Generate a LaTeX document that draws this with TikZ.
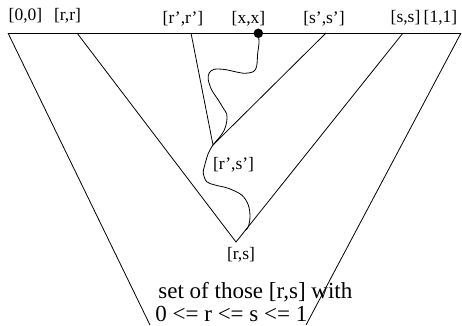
\documentclass[tikz,border=0pt]{standalone}
\usepackage{fontspec}
\setmainfont{Liberation Serif}
\usetikzlibrary{calc}

\begin{document}
\begin{tikzpicture}[
  x=1pt, y=-1pt,
  line width=0.8pt,
  lbl/.style={inner sep=0pt, anchor=base, font=\fontsize{17.5}{20}\selectfont},
  note/.style={inner sep=0pt, anchor=base west, font=\fontsize{23}{25}\selectfont},
  dot/.style={circle, fill, inner sep=0pt, minimum size=9.5pt}
]
\useasboundingbox (0,0) rectangle (462,325);
% points of the diagonal
\coordinate (zz) at (8,33);
\coordinate (rr) at (77,33);
\coordinate (rprp) at (191,33);
\coordinate (spsp) at (326,33);
\coordinate (ss) at (403,33);
\coordinate (oo) at (461,33);
% corners below
\coordinate (rpsp) at (213,145);
\coordinate (rs) at (236,242);
\coordinate (bl) at (150,325);
\coordinate (br) at (306,325);
\coordinate (pend) at ($(rs)!0.057!(ss)$);

\draw (zz) -- (oo);
\draw (zz) -- (bl);
\draw (oo) -- (br);
\draw (rr) -- (rs) -- (ss);
\draw (rprp) -- (rpsp) -- (spsp);

\node[dot] (xx) at (258.3,33.3) {};
% path from [x,x] down to [r,s]
\draw plot[smooth, tension=0.55] coordinates {(xx.center) (259,43) (257.7,53) (256.7,66)
  (253.5,71.5) (245,73.3) (235,71.7) (225,69.5) (214,69.3) (209,73.3) (208.3,80)
  (211.7,90) (218.3,100) (223.3,108.3) (226.7,114) (226.7,121.7) (224.3,130)
  (220,136.7) (215.7,141.7) (rpsp) (208.3,153.3) (204.3,166.7) (203.3,173.3)
  (206.7,181.7) (215,185) (228.3,188.3) (241.7,195) (248.3,205) (250,216.7)
  (248.3,226.7) (pend)};

\node[lbl] (l00) at (25.5,20.5) {[0,0]};
\node[lbl] (lrr) at (67.5,20.5) {[r,r]};
\node[lbl] (lrprp) at (183,23.5) {[r',r']};
\node[lbl] (lxx) at (248.5,23.5) {[x,x]};
\node[lbl] (lspsp) at (324,23.5) {[s',s']};
\node[lbl] (lss) at (405.5,22.5) {[s,s]};
\node[lbl] (l11) at (440.5,22.5) {[1,1]};
\node[lbl] (lrpsp) at (233.5,169) {[r',s']};
\node[lbl] (lrs) at (241,259) {[r,s]};

\node[note] (set) at (158,298) {set of those [r,s] with};
\node[note] (ineq) at (155,321) {0 <= r <= s <= 1};
\end{tikzpicture}
\end{document}
